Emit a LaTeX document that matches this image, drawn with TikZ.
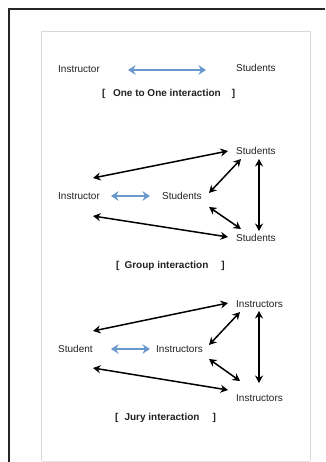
\documentclass[tikz,border=0pt]{standalone}
\usepackage{fontspec}
\setmainfont{Liberation Sans}
\usetikzlibrary{arrows.meta}
\definecolor{txt}{HTML}{222222}
\definecolor{bluearr}{RGB}{104,152,206}
\tikzset{
  lbl/.style={anchor=west, inner sep=0pt, font=\fontsize{10}{12}\selectfont, text=txt},
  ttl/.style={anchor=west, inner sep=0pt, font=\fontsize{10}{12}\selectfont\bfseries, text=txt},
  barr/.style={line width=2.6pt, draw=bluearr, {Stealth[length=7.5pt,width=9.5pt]}-{Stealth[length=7.5pt,width=9.5pt]}},
  karr/.style={line width=1.5pt, draw=black, {Stealth[length=7.5pt,width=8pt,inset=2.5pt]}-{Stealth[length=7.5pt,width=8pt,inset=2.5pt]}}
}
\begin{document}
\begin{tikzpicture}[x=1pt,y=-1pt]
\useasboundingbox (0,0) rectangle (325,462);
\fill[white] (0,0) rectangle (325,462);
% outer frame
\draw[line width=2pt, black!85] (9,462) -- (9,9) -- (325,9);
% inner panel
\draw[line width=0.6pt, black!15] (41.5,461) -- (41.5,31.5) -- (310,31.5) -- (310,461);
\draw[line width=0.8pt, black!10] (41.5,461) -- (310,461);

% One to one
\node[lbl] (n1i) at (58,69) {Instructor};
\node[lbl] (n1s) at (236,68) {Students};
\draw[barr] ([shift={(70,1)}]n1i.west) -- ([shift={(-30,2)}]n1s.west);
\node[ttl] (l1) at (102,94) {[\hspace{7.5pt}One to One interaction\hspace{11pt}]};

% Group
\node[lbl] (g0) at (58,196) {Instructor};
\node[lbl] (g1) at (162,196) {Students};
\node[lbl] (g2) at (236,151) {Students};
\node[lbl] (g3) at (236,238) {Students};
\draw[barr] ([shift={(53,0)}]g0.west) -- ([shift={(-12,0)}]g1.west);
\draw[karr] ([shift={(35,-18)}]g0.west) -- ([shift={(-8,0)}]g2.west);
\draw[karr] ([shift={(35,20)}]g0.west) -- ([shift={(-8,-1)}]g3.west);
\draw[karr] ([shift={(47,-3)}]g1.west) -- ([shift={(5,8)}]g2.west);
\draw[karr] ([shift={(47,11)}]g1.west) -- ([shift={(5,-9)}]g3.west);
\draw[karr] ([shift={(23,8)}]g2.west) -- ([shift={(23,-7)}]g3.west);
\node[ttl] (l2) at (116,266) {[\hspace{5pt}Group interaction\hspace{13pt}]};

% Jury
\node[lbl] (j0) at (58,349) {Student};
\node[lbl] (j1) at (156,349) {Instructors};
\node[lbl] (j2) at (236,304) {Instructors};
\node[lbl] (j3) at (236,398) {Instructors};
\draw[barr] ([shift={(53,0)}]j0.west) -- ([shift={(-6,0)}]j1.west);
\draw[karr] ([shift={(35,-18)}]j0.west) -- ([shift={(-8,-1)}]j2.west);
\draw[karr] ([shift={(35,19)}]j0.west) -- ([shift={(-8,-8)}]j3.west);
\draw[karr] ([shift={(53,-4)}]j1.west) -- ([shift={(4,8)}]j2.west);
\draw[karr] ([shift={(53,10)}]j1.west) -- ([shift={(4,-17)}]j3.west);
\draw[karr] ([shift={(23,7)}]j2.west) -- ([shift={(23,-15)}]j3.west);
\node[ttl] (l3) at (115,418) {[\hspace{6pt}Jury interaction\hspace{13pt}]};
\end{tikzpicture}
\end{document}
